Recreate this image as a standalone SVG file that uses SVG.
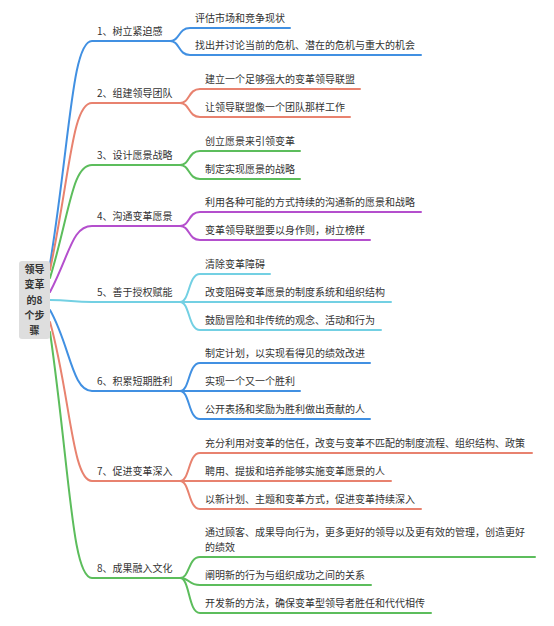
<svg xmlns="http://www.w3.org/2000/svg" width="554" height="626" viewBox="0 0 554 626">
<style>
text{font-family:"Noto Sans CJK SC","Noto Sans",sans-serif;font-size:10px;fill:#333}
.root text{font-weight:bold;text-anchor:middle}
path{fill:none;stroke-width:2;stroke-linecap:round}
.c1{stroke:#4190e2}.c2{stroke:#e8826f}.c3{stroke:#5cbd5c}.c4{stroke:#b44fcd}.c5{stroke:#73d0e3}
</style>
<rect width="554" height="626" fill="#fff"/>
<g id="connectors">
<path class="c1" d="M50 264 C70 140 72 41 92 41 H170"/>
<path class="c2" d="M50 270 C70 175 72 103 92 103 H180"/>
<path class="c3" d="M50 278 C70 212 72 165 92 165 H180"/>
<path class="c4" d="M50 292 C70 254 72 226 92 226 H180"/>
<path class="c5" d="M50 300 C70 300 72 302 92 302 H180"/>
<path class="c1" d="M50 310 C70 345 72 391 92 391 H180"/>
<path class="c2" d="M50 322 C70 393 72 481 92 481 H180"/>
<path class="c3" d="M50 332 C70 472 72 578 92 578 H180"/>
<path class="c1" d="M170 41 C180 41 178 28 190 28 H290 M170 41 C180 41 178 55 190 55 H421"/>
<path class="c2" d="M180 103 C190 103 188 89 200 89 H360 M180 103 C190 103 188 117 200 117 H350"/>
<path class="c3" d="M180 165 C190 165 188 151 200 151 H300 M180 165 C190 165 188 179 200 179 H300"/>
<path class="c4" d="M180 226 C190 226 188 212 200 212 H421 M180 226 C190 226 188 240 200 240 H370"/>
<path class="c5" d="M180 302 C190 302 188 274 200 274 H270 M180 302 H391 M180 302 C190 302 188 330 200 330 H381"/>
<path class="c1" d="M180 391 C190 391 188 363 200 363 H370 M180 391 H300 M180 391 C190 391 188 419 200 419 H370"/>
<path class="c2" d="M180 481 C190 481 188 453 200 453 H532 M180 481 H391 M180 481 C190 481 188 509 200 509 H421"/>
<path class="c3" d="M180 578 C190 578 188 557 200 557 H535 M180 578 C190 578 188 585 200 585 H371 M180 578 C190 578 188 613 200 613 H431"/>
</g>
<g id="root" class="root">
<rect x="19" y="261" width="31" height="78" rx="3" fill="#dedede"/>
<text x="34.5" y="273">领导</text>
<text x="34.5" y="288">变革</text>
<text x="34.5" y="304">的8</text>
<text x="34.5" y="319">个步</text>
<text x="34.5" y="334">骤</text>
</g>
<g id="n1"><text x="97" y="35">1、树立紧迫感</text></g>
<g id="n1a"><text x="195" y="22">评估市场和竞争现状</text></g>
<g id="n1b"><text x="195" y="49">找出并讨论当前的危机、潜在的危机与重大的机会</text></g>
<g id="n2"><text x="97" y="97">2、组建领导团队</text></g>
<g id="n2a"><text x="205" y="83">建立一个足够强大的变革领导联盟</text></g>
<g id="n2b"><text x="205" y="111">让领导联盟像一个团队那样工作</text></g>
<g id="n3"><text x="97" y="159">3、设计愿景战略</text></g>
<g id="n3a"><text x="205" y="145">创立愿景来引领变革</text></g>
<g id="n3b"><text x="205" y="173">制定实现愿景的战略</text></g>
<g id="n4"><text x="97" y="220">4、沟通变革愿景</text></g>
<g id="n4a"><text x="205" y="206">利用各种可能的方式持续的沟通新的愿景和战略</text></g>
<g id="n4b"><text x="205" y="234">变革领导联盟要以身作则，树立榜样</text></g>
<g id="n5"><text x="97" y="296">5、善于授权赋能</text></g>
<g id="n5a"><text x="205" y="268">清除变革障碍</text></g>
<g id="n5b"><text x="205" y="296">改变阻碍变革愿景的制度系统和组织结构</text></g>
<g id="n5c"><text x="205" y="324">鼓励冒险和非传统的观念、活动和行为</text></g>
<g id="n6"><text x="97" y="385">6、积累短期胜利</text></g>
<g id="n6a"><text x="205" y="357">制定计划，以实现看得见的绩效改进</text></g>
<g id="n6b"><text x="205" y="385">实现一个又一个胜利</text></g>
<g id="n6c"><text x="205" y="413">公开表扬和奖励为胜利做出贡献的人</text></g>
<g id="n7"><text x="97" y="475">7、促进变革深入</text></g>
<g id="n7a"><text x="205" y="447">充分利用对变革的信任，改变与变革不匹配的制度流程、组织结构、政策</text></g>
<g id="n7b"><text x="205" y="475">聘用、提拔和培养能够实施变革愿景的人</text></g>
<g id="n7c"><text x="205" y="503">以新计划、主题和变革方式，促进变革持续深入</text></g>
<g id="n8"><text x="97" y="572">8、成果融入文化</text></g>
<g id="n8a"><text x="205" y="536">通过顾客、成果导向行为，更多更好的领导以及更有效的管理，创造更好</text><text x="205" y="551">的绩效</text></g>
<g id="n8b"><text x="205" y="579">阐明新的行为与组织成功之间的关系</text></g>
<g id="n8c"><text x="205" y="607">开发新的方法，确保变革型领导者胜任和代代相传</text></g>
</svg>
